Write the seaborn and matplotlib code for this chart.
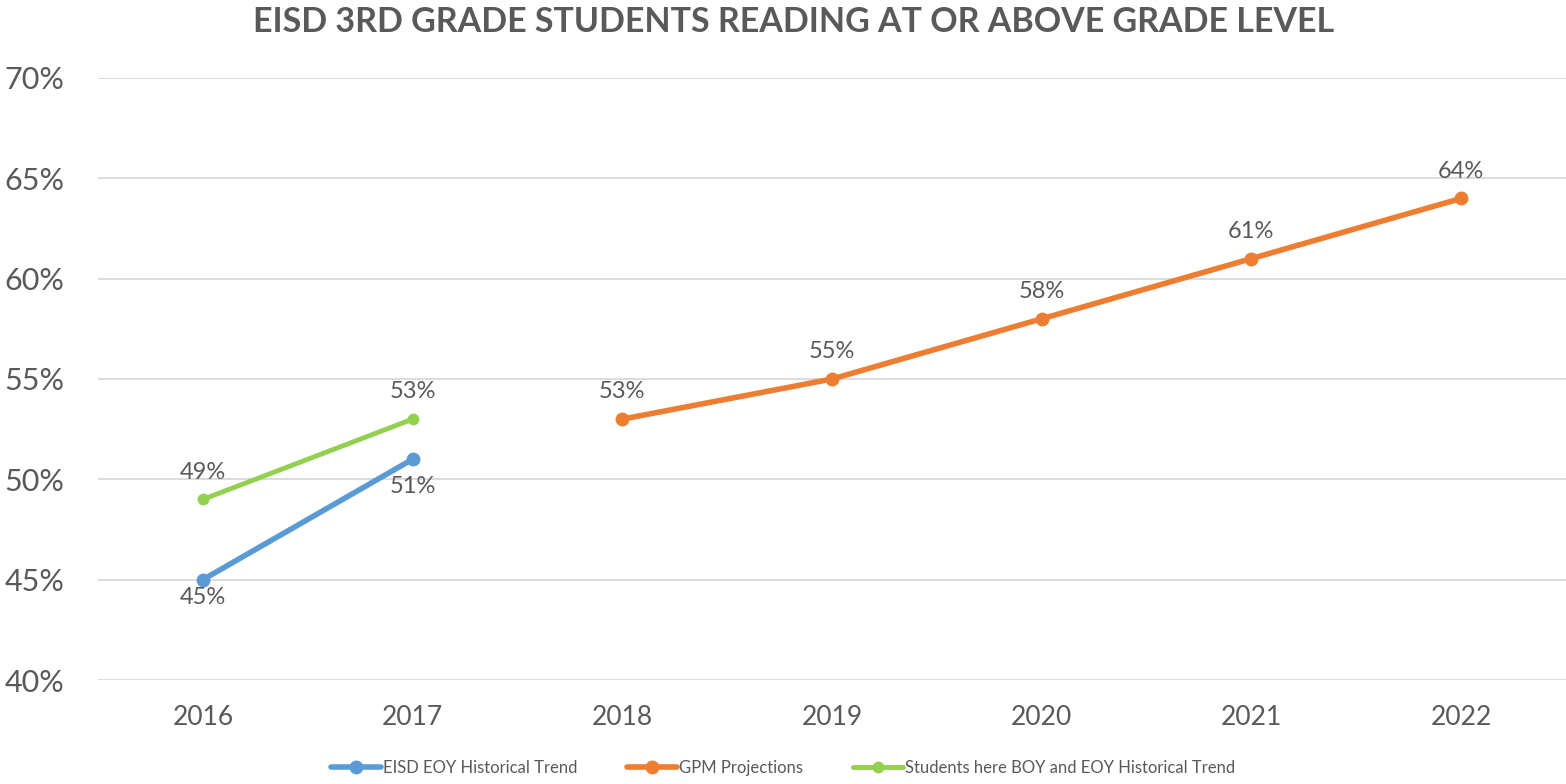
import pandas as pd
import numpy as np
import matplotlib
matplotlib.use("Agg")
import matplotlib.pyplot as plt
import seaborn as sns

years = ["2016", "2017", "2018", "2019", "2020", "2021", "2022"]

eisd_years = ["2016", "2017"]
eisd_vals = [45, 51]

gpm_years = ["2018", "2019", "2020", "2021", "2022"]
gpm_vals = [53, 55, 58, 61, 64]

boy_years = ["2016", "2017"]
boy_vals = [49, 53]

yticks = [40, 45, 50, 55, 60, 65, 70]

sns.set_theme(style="white")
plt.rcParams['font.family'] = ['Lato', 'DejaVu Sans']

grey = "#595959"
c_blue = "#5B9BD5"
c_orange = "#ED7D31"
c_green = "#92D050"

def frame(ys, vs, name):
    return pd.DataFrame({"pos": [years.index(y) for y in ys], "val": vs, "series": name})

eisd = frame(eisd_years, eisd_vals, "EISD EOY Historical Trend")
gpm = frame(gpm_years, gpm_vals, "GPM Projections")
boy = frame(boy_years, boy_vals, "Students here BOY and EOY Historical Trend")

fig = plt.figure(figsize=(15.66, 7.84), dpi=100)
ax = fig.add_axes([98 / 1566, 1 - 680 / 784, 1 - 98 / 1566, (680 - 78) / 784])

sns.lineplot(data=eisd, x="pos", y="val", ax=ax, color=c_blue, linewidth=4,
             marker="o", markersize=10, markeredgewidth=0, label=eisd["series"][0])
sns.lineplot(data=gpm, x="pos", y="val", ax=ax, color=c_orange, linewidth=4,
             marker="o", markersize=10, markeredgewidth=0, label=gpm["series"][0])
sns.lineplot(data=boy, x="pos", y="val", ax=ax, color=c_green, linewidth=3.5,
             marker="o", markersize=8.5, markeredgewidth=0, label=boy["series"][0])

lab = dict(fontsize=17, color=grey, ha="center")
for p, v, off in zip(eisd["pos"], eisd["val"], [-5, -12]):
    ax.annotate(f"{v}%", (p, v), xytext=(0, off), textcoords="offset points", va="top", **lab)
for p, v in zip(gpm["pos"], gpm["val"]):
    ax.annotate(f"{v}%", (p, v), xytext=(0, 12), textcoords="offset points", va="bottom", **lab)
for p, v in zip(boy["pos"], boy["val"]):
    ax.annotate(f"{v}%", (p, v), xytext=(0, 12), textcoords="offset points", va="bottom", **lab)

ax.set_xlim(-0.5, len(years) - 0.5)
ax.set_ylim(40, 70)
ax.set_xticks(range(len(years)))
ax.set_xticklabels(years)
ax.set_yticks(yticks)
ax.set_yticklabels([f"{t}%" for t in yticks])
ax.tick_params(axis="x", labelsize=19, colors=grey, length=0, pad=18)
ax.tick_params(axis="y", labelsize=22, colors=grey, length=0, pad=24)
ax.grid(axis="y", color="#D9D9D9", linewidth=1.3)
ax.set_axisbelow(True)
for s in ax.spines.values():
    s.set_visible(False)
ax.set_xlabel("")
ax.set_ylabel("")

fig.suptitle("EISD 3RD GRADE STUDENTS READING AT OR ABOVE GRADE LEVEL",
             x=794 / 1566, y=1 - 22 / 784, va="center",
             fontsize=24.5, fontweight="bold", color=grey)

leg = ax.legend(loc="center", bbox_to_anchor=(0.5, 1 - 768 / 784),
                bbox_transform=fig.transFigure,
                ncol=3, frameon=False, fontsize=12, handlelength=3, columnspacing=3,
                handletextpad=0.1, labelcolor=grey)

fig.savefig("out.png", dpi=100)
